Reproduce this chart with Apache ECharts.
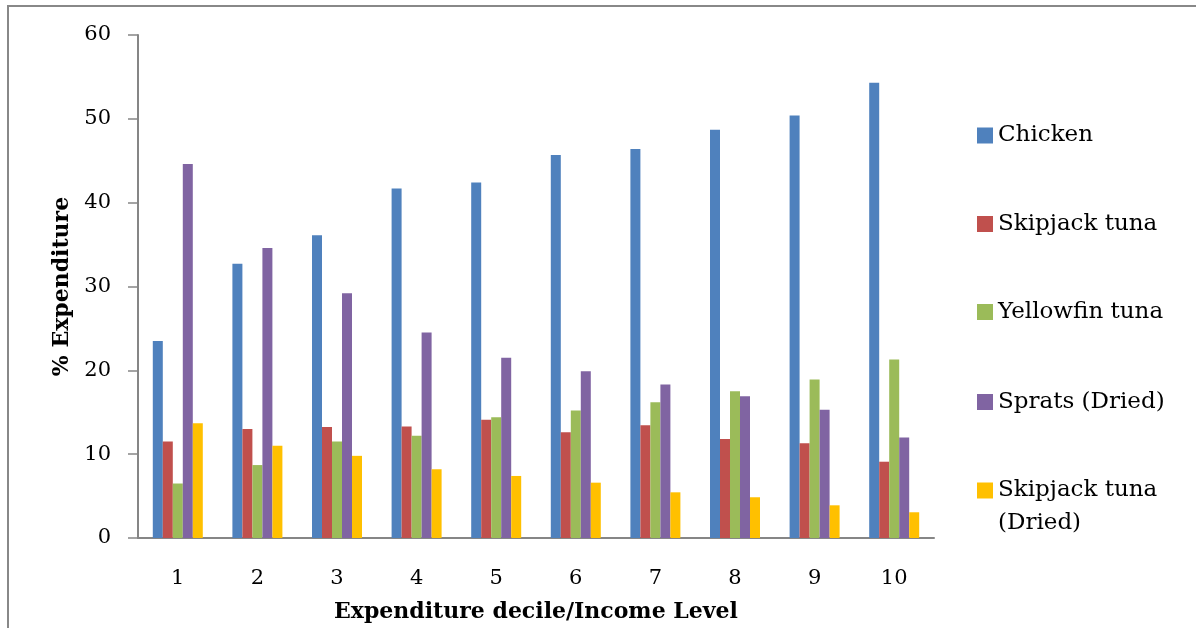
<!DOCTYPE html>
<html><head><meta charset="utf-8">
<script src="https://cdn.jsdelivr.net/npm/echarts@6/dist/echarts.min.js"></script>
<style>html,body{margin:0;padding:0;background:#fff;}#c{width:1196px;height:628px;}</style>
</head><body><div id="c"></div>
<script>
const categories = ['1','2','3','4','5','6','7','8','9','10'];
const seriesNames = ['Chicken','Skipjack tuna','Yellowfin tuna','Sprats (Dried)','Skipjack tuna (Dried)'];
const chicken      = [23.5, 32.7, 36.1, 41.7, 42.4, 45.7, 46.4, 48.7, 50.4, 54.3];
const skipjack     = [11.5, 13.0, 13.25, 13.3, 14.1, 12.6, 13.45, 11.8, 11.3, 9.1];
const yellowfin    = [6.5, 8.7, 11.5, 12.2, 14.4, 15.2, 16.2, 17.5, 18.9, 21.3];
const sprats       = [44.6, 34.6, 29.2, 24.5, 21.5, 19.9, 18.3, 16.9, 15.3, 12.0];
const skipjackDried= [13.7, 11.0, 9.8, 8.2, 7.4, 6.6, 5.45, 4.86, 3.9, 3.07];
const yTicks = {min: 0, max: 60, interval: 10};
const colors = ['#4F81BD','#C0504D','#9BBB59','#8064A2','#FFC000'];
const values = [chicken, skipjack, yellowfin, sprats, skipjackDried];

const FONT = 'DejaVu Serif';
const LH = 33;
const iconCenters = [135.5, 224, 312, 402, 490.5];
const legends = seriesNames.map((n, i) => ({
  data: [n], left: 977, orient: 'vertical', padding: 0,
  top: i === 4 ? iconCenters[i] - 1.5 * LH : iconCenters[i] - LH / 2,
  itemWidth: 16, itemHeight: 16, icon: 'rect', selectedMode: false,
  formatter: name => name === 'Skipjack tuna (Dried)' ? ' \nSkipjack tuna\n(Dried)' : name,
  textStyle: {fontFamily: FONT, fontSize: 23, color: '#000', lineHeight: LH}
}));

const chart = echarts.init(document.getElementById('c'));
chart.setOption({
  animation: false,
  backgroundColor: '#fff',
  graphic: [{type: 'rect', shape: {x: 8, y: 6, width: 1200, height: 640},
    style: {fill: 'none', stroke: '#888', lineWidth: 2}, silent: true}],
  grid: {left: 138, right: 262, top: 35, bottom: 90},
  legend: legends,
  xAxis: {
    type: 'category', data: categories,
    axisLine: {lineStyle: {color: '#868686', width: 2}},
    axisTick: {show: false},
    axisLabel: {fontFamily: FONT, fontSize: 21, color: '#000', margin: 30},
    name: 'Expenditure decile/Income Level', nameLocation: 'middle', nameGap: 63,
    nameTextStyle: {fontFamily: FONT, fontSize: 22, fontWeight: 'bold', color: '#000'}
  },
  yAxis: {
    type: 'value', min: yTicks.min, max: yTicks.max, interval: yTicks.interval,
    axisLine: {show: true, lineStyle: {color: '#868686', width: 2}},
    axisTick: {show: true, length: 10, lineStyle: {color: '#868686', width: 1.5}},
    splitLine: {show: false},
    axisLabel: {fontFamily: FONT, fontSize: 21, color: '#000', margin: 27},
    name: '% Expenditure', nameLocation: 'middle', nameGap: 64,
    nameTextStyle: {fontFamily: FONT, fontSize: 22, fontWeight: 'bold', color: '#000'}
  },
  series: seriesNames.map((n, i) => ({
    name: n, type: 'bar', data: values[i], barWidth: 10, barGap: '0%',
    itemStyle: {color: colors[i]}
  }))
});
</script></body></html>
